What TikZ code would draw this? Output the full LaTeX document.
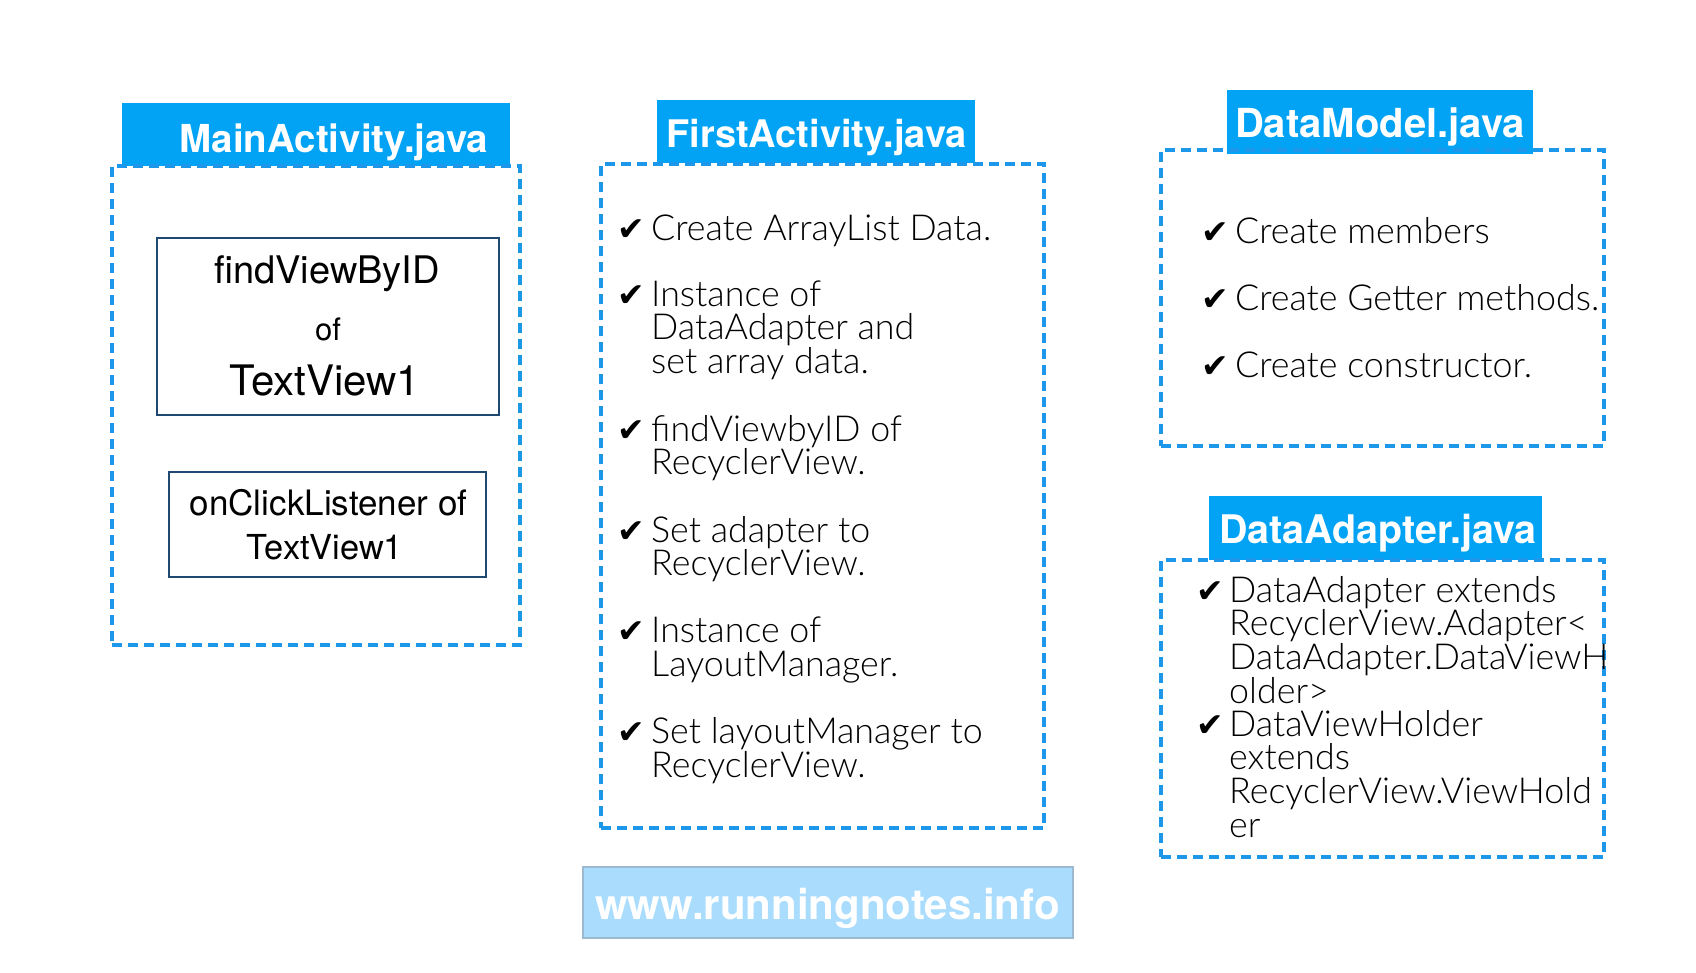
\documentclass[tikz,border=0pt]{standalone}
\usepackage{fontspec}
\setmainfont{TeX Gyre Heros}
\newfontfamily\bodyfont{Lato Light}
\newfontfamily\chkfont{DejaVu Sans}
\definecolor{titleblue}{HTML}{02A3F4}
\definecolor{dashblue}{HTML}{1C97EA}
\definecolor{navy}{HTML}{1E4A72}
\definecolor{wmfill}{HTML}{AADCFD}
\definecolor{wmdraw}{HTML}{9DB9D0}
\newcommand\bline[4]{\node[bl] (#1) at (#2,#3) {#4};}
\newcommand\chkat[3]{\node[chk] (#1) at (#2,#3) {✔};}
\begin{document}
\begin{tikzpicture}[x=1pt,y=-1pt,
  titlebar/.style={fill=titleblue, draw=none, inner sep=0, minimum width=#1},
  titlebar/.default=300,
  dashbox/.style={draw=dashblue, line width=4pt, dash pattern=on 10pt off 6pt, inner sep=0},
  innerbox/.style={draw=navy, line width=2pt, inner sep=0},
  ttl/.style={text=white, font=\fontsize{#1}{40}\selectfont\bfseries, anchor=base, inner sep=0},
  ttl/.default=38,
  bl/.style={font=\bodyfont\fontsize{35.8}{36}\selectfont, anchor=base west, inner sep=0},
  chk/.style={font=\chkfont\fontsize{33}{33}\selectfont, anchor=base west, inner sep=0},
  hv/.style={anchor=base, inner sep=0}
]
\useasboundingbox[fill=white] (0,0) rectangle (1696,972);

% MainActivity
\node[titlebar=388, minimum height=63] (mainbar) at (316,134.5) {};
\node[dashbox, minimum width=408, minimum height=479] (mainbox) at (316,405.5) {};
\node[ttl=38.5] (maintitle) at (334,152) {MainActivity.java};
\node[innerbox, minimum width=342, minimum height=177] (fvbox) at (328,326.5) {};
\node[innerbox, minimum width=317, minimum height=105] (ocbox) at (327.5,524.5) {};
\node[hv, font=\fontsize{38}{40}\selectfont] (fv1) at (327,283) {findViewByID};
\node[hv, font=\fontsize{31}{32}\selectfont] (fv2) at (328,340) {of};
\node[hv, font=\fontsize{42}{44}\selectfont] (fv3) at (325,395) {TextView1};
\node[hv, font=\fontsize{35}{36}\selectfont] (oc1) at (328.5,515) {onClickListener of};
\node[hv, font=\fontsize{34.4}{36}\selectfont] (oc2) at (325,559) {TextView1};

% FirstActivity
\node[titlebar=318, minimum height=63] (firstbar) at (816,131.5) {};
\node[dashbox, minimum width=443, minimum height=664] (firstbox) at (822.5,496) {};
\node[ttl=38] (firsttitle) at (816.5,147) {FirstActivity.java};
\chkat{fc1}{617}{240}
\bline{fa1}{651}{240}{Create ArrayList Data.}
\chkat{fc2}{617}{306}
\bline{fa2}{651}{306}{Instance of}
\bline{fa3}{651}{339}{DataAdapter and}
\bline{fa4}{651}{373}{set array data.}
\chkat{fc3}{617}{441}
\bline{fa5}{651}{441}{findViewbyID of}
\bline{fa6}{651}{474}{RecyclerView.}
\chkat{fc4}{617}{542}
\bline{fa7}{651}{542}{Set adapter to}
\bline{fa8}{651}{575}{RecyclerView.}
\chkat{fc5}{617}{642}
\bline{fa9}{651}{642}{Instance of}
\bline{fa10}{651}{676}{LayoutManager.}
\chkat{fc6}{617}{743}
\bline{fa11}{651}{743}{Set layoutManager to}
\bline{fa12}{651}{777}{RecyclerView.}

% DataModel
\node[titlebar=306, minimum height=64] (dmbar) at (1380,122) {};
\node[dashbox, minimum width=443, minimum height=296] (dmbox) at (1382.5,298) {};
\node[ttl=40] (dmtitle) at (1380,137) {DataModel.java};
\chkat{dc1}{1201}{243}
\bline{dm1}{1235}{243}{Create members}
\chkat{dc2}{1201}{310}
\bline{dm2}{1235}{310}{Create Getter methods.}
\chkat{dc3}{1201}{377}
\bline{dm3}{1235}{377}{Create constructor.}

% DataAdapter
\node[titlebar=333, minimum height=64] (dabar) at (1375.5,528) {};
\node[dashbox, minimum width=443, minimum height=297] (dabox) at (1382.5,708.5) {};
\node[ttl=39.4] (datitle) at (1378,543) {DataAdapter.java};
\chkat{ac1}{1196}{602}
\bline{da1}{1229}{602}{DataAdapter extends}
\bline{da2}{1229}{635}{RecyclerView.Adapter<}
\bline{da3}{1229}{669}{DataAdapter.DataViewH}
\bline{da4}{1229}{703}{older>}
\chkat{ac2}{1196}{736}
\bline{da5}{1229}{736}{DataViewHolder}
\bline{da6}{1229}{769}{extends}
\bline{da7}{1229}{803}{RecyclerView.ViewHold}
\bline{da8}{1229}{837}{er}

% watermark
\node[fill=wmfill, draw=wmdraw, line width=2pt, inner sep=0, minimum width=490, minimum height=71] (wmbox) at (828,902.5) {};
\node[hv, text=white, font=\fontsize{42}{44}\selectfont\bfseries] (wm) at (827.5,919) {www.runningnotes.info};
\end{tikzpicture}
\end{document}
